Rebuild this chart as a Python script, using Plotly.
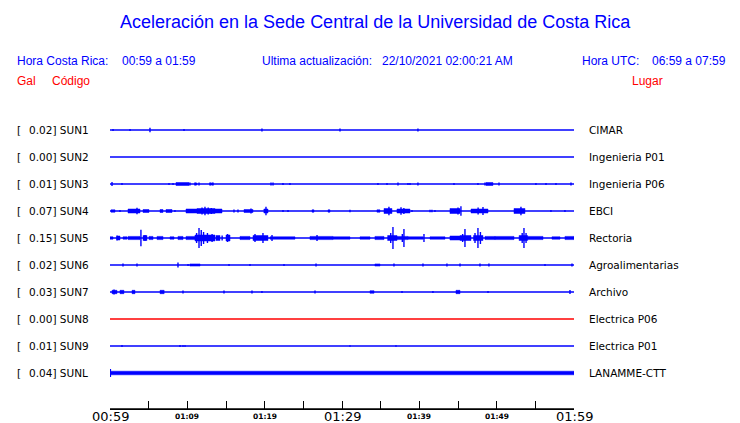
import plotly.graph_objects as go

# ---------------- data ----------------
codes = ["SUN1", "SUN2", "SUN3", "SUN4", "SUN5", "SUN6", "SUN7", "SUN8", "SUN9", "SUNL"]
gal = ["0.02", "0.00", "0.01", "0.07", "0.15", "0.02", "0.03", "0.00", "0.01", "0.04"]
places = ["CIMAR", "Ingenieria P01", "Ingenieria P06", "EBCI", "Rectoria",
          "Agroalimentarias", "Archivo", "Electrica P06", "Electrica P01", "LANAMME-CTT"]

tick_minutes = [0, 5, 10, 15, 20, 25, 30, 35, 40, 45, 50, 55, 60]
label_minutes = [0, 10, 20, 30, 40, 50, 60]
label_texts = ["00:59", "01:09", "01:19", "01:29", "01:39", "01:49", "01:59"]
major_labels = ["00:59", "01:29", "01:59"]

# spikes: (minute after 00:59, half amplitude) ; bands: (start, end, half amplitude)
sun1_spikes = [(0.39, 1), (2.59, 1), (5.17, 2.2), (9.57, 1), (19.65, 1.5), (29.74, 1.5), (39.82, 1.5)]
sun1_bands = []
sun2_spikes = []
sun2_bands = []
sun3_spikes = [(0.26, 2), (1.55, 1), (7.63, 1), (8.15, 1), (10.34, 1.5), (10.99, 1.5), (11.51, 1.5),
               (12.93, 1.5), (13.32, 1.5), (20.82, 1.5), (21.08, 1.5), (22.37, 1), (23.27, 1),
               (34.65, 1), (35.82, 1), (37.24, 1.5), (38.53, 1), (38.79, 1), (39.82, 1.5),
               (44.48, 1), (47.58, 1), (48.49, 1.5), (50.3, 1.5), (55.08, 1), (56.38, 1),
               (57.67, 1), (59.61, 1.5)]
sun3_bands = [(8.53, 10.21, 1.5), (10.99, 11.25, 1.1), (12.93, 13.32, 1.1), (48.62, 49.52, 1.5)]
sun4_spikes = [(1.29, 1), (3.49, 3.3), (8.4, 1), (11.9, 3.5), (12.28, 4.2), (12.7, 3.5), (13.1, 3),
               (16.03, 1.5), (16.55, 1.5), (18.23, 2.5), (20.17, 4.2), (22.37, 1), (23.02, 1),
               (31.03, 1.2), (36.07, 4.3), (37.63, 3.7), (38.0, 3), (39.05, 1), (41.38, 1.2),
               (41.63, 1.2), (42.02, 1), (45.0, 3.5), (45.38, 4.7), (47.6, 3.5), (48.23, 4),
               (53.14, 4.2), (57.02, 1), (58.83, 1)]
sun4_bands = [(0.13, 0.65, 1.2), (2.33, 3.88, 2.0), (4.27, 5.04, 1.5), (6.47, 6.85, 1.5), (7.24, 8.02, 1.5),
              (9.83, 11.25, 2.0), (11.25, 13.58, 2.5), (13.58, 14.48, 2.0), (17.33, 18.49, 1.5),
              (19.9, 20.43, 2.0), (26.12, 26.38, 1.2), (28.19, 28.45, 1.2), (34.52, 34.91, 1.2),
              (35.43, 36.46, 2.5), (37.11, 38.79, 2.0), (43.96, 45.26, 2.5), (46.68, 48.88, 2.0),
              (52.24, 53.66, 2.5)]
sun5_spikes = [(0.9, 2.5), (4.0, 8.3), (4.53, 3), (11.2, 5), (11.51, 10), (11.8, 8), (12.1, 6),
               (12.6, 5), (13.2, 4), (14.5, 2.5), (15.2, 4), (18.75, 4), (19.78, 5), (20.95, 3),
               (26.77, 3), (36.3, 5), (36.59, 11), (37.8, 4), (38.01, 9), (40.6, 4), (45.6, 4),
               (45.9, 9), (47.2, 5), (47.58, 10), (47.9, 6), (53.3, 5), (53.53, 10), (53.8, 5)]
sun5_bands = [(0.0, 0.39, 1.2), (0.9, 1.29, 2.0), (1.68, 2.2, 1.2), (2.33, 3.88, 1.6), (4.27, 4.78, 2.5),
              (5.04, 5.56, 1.6), (6.08, 6.85, 1.6), (7.76, 8.28, 1.2), (8.79, 9.44, 1.6), (9.83, 10.99, 1.6),
              (10.99, 13.58, 3.0), (13.71, 14.22, 2.5), (15.0, 15.52, 3.0), (16.81, 18.1, 1.6),
              (18.49, 20.43, 2.5), (20.69, 23.92, 1.2), (25.86, 28.83, 1.6), (28.83, 31.03, 1.2),
              (32.33, 33.62, 1.2), (34.26, 35.43, 1.6), (35.9, 37.11, 2.5), (37.11, 38.53, 1.6),
              (38.53, 40.47, 1.2), (41.38, 43.32, 1.2), (43.96, 45.26, 2.0), (45.26, 46.68, 2.5),
              (47.0, 48.23, 2.5), (48.49, 49.78, 1.6), (49.78, 52.24, 1.6), (52.9, 54.0, 2.5),
              (54.0, 55.99, 1.6), (57.15, 58.19, 1.2), (58.83, 60.0, 1.6)]
sun6_spikes = [(1.68, 1.5), (3.49, 1.5), (8.79, 2.5), (10.09, 1), (15.39, 1), (18.1, 1), (22.5, 1),
               (26.64, 1.5), (36.72, 1.5), (40.47, 1.5), (43.57, 1.5), (45.26, 1.5), (47.84, 1.5),
               (49.0, 1.5), (56.25, 1), (59.74, 1.5)]
sun6_bands = [(10.34, 11.64, 1.1), (34.26, 34.91, 1.1)]
sun7_spikes = [(0.52, 2.5), (9.44, 1.5), (14.74, 1.5), (18.36, 1.5), (19.65, 1), (26.51, 1.5),
               (37.76, 1), (41.76, 1), (48.88, 1), (59.48, 2)]
sun7_bands = [(0.26, 0.9, 1.7), (1.29, 1.8, 1.7), (2.85, 3.23, 1.7), (6.47, 7.0, 1.7), (33.62, 34.14, 1.3),
              (44.74, 45.26, 1.7)]
sun8_spikes = []
sun8_bands = []
sun9_spikes = [(1.55, 1), (9.05, 1), (9.44, 0.8), (9.7, 0.8), (31.03, 0.8), (36.98, 0.8)]
sun9_bands = []
sunl_spikes = [(0.05, 4)]
sunl_bands = [(0.0, 60.0, 1.8)]

spikes = [sun1_spikes, sun2_spikes, sun3_spikes, sun4_spikes, sun5_spikes,
          sun6_spikes, sun7_spikes, sun8_spikes, sun9_spikes, sunl_spikes]
bands = [sun1_bands, sun2_bands, sun3_bands, sun4_bands, sun5_bands,
         sun6_bands, sun7_bands, sun8_bands, sun9_bands, sunl_bands]
trace_colors = ["#0000FF"] * 7 + ["#FF0000"] + ["#0000FF"] * 2

# ---------------- layout geometry ----------------
W, H = 740, 423
L, R, T, B = 110, 574, 100, 409
ROW = 27.0
AMP = 1.0 / ROW  # amplitude unit -> row units


def px_x(p):
    return (p - L) / (R - L)


def px_y(p):
    return (B - p) / (B - T)


fig = go.Figure()

for i, code in enumerate(codes):
    col = trace_colors[i]
    fig.add_trace(go.Scatter(x=[0, 60], y=[i, i], mode="lines",
                             line=dict(color=col, width=1.3), hoverinfo="skip"))
    if bands[i]:
        bx, by = [], []
        for s, e, a in bands[i]:
            bx += [s, e, e, s, s, None]
            by += [i - a * AMP, i - a * AMP, i + a * AMP, i + a * AMP, i - a * AMP, None]
        fig.add_trace(go.Scatter(x=bx, y=by, mode="lines", fill="toself", fillcolor=col,
                                 line=dict(color=col, width=0.5), hoverinfo="skip"))
    if spikes[i]:
        sx, sy = [], []
        for t, a in spikes[i]:
            sx += [t, t, None]
            sy += [i - a * AMP, i + a * AMP, None]
        fig.add_trace(go.Scatter(x=sx, y=sy, mode="lines",
                                 line=dict(color=col, width=1.4), hoverinfo="skip"))

ann = []
# title
ann.append(dict(text="Aceleración en la Sede Central de la Universidad de Costa Rica",
                x=px_x(375.5), y=px_y(22), xref="paper", yref="paper",
                xanchor="center", yanchor="middle", showarrow=False,
                font=dict(family="Liberation Sans", size=18, color="#0000FF")))

blue_f = dict(family="Liberation Sans", size=12, color="#0000FF")
red_f = dict(family="Liberation Sans", size=12, color="#FF0000")
for txt, px, py, f in [("Hora Costa Rica:", 15, 61, blue_f), ("00:59 a 01:59", 120, 61, blue_f),
                       ("Ultima actualización:", 260, 61, blue_f),
                       ("22/10/2021 02:00:21 AM", 380, 61, blue_f),
                       ("Hora UTC:", 580, 61, blue_f), ("06:59 a 07:59", 650, 61, blue_f),
                       ("Gal", 15, 81, red_f), ("Código", 50, 81, red_f), ("Lugar", 630, 81, red_f)]:
    ann.append(dict(text=txt, x=px_x(px), y=px_y(py), xref="paper", yref="paper",
                    xanchor="left", yanchor="middle", showarrow=False, font=f))

lab_f = dict(family="DejaVu Sans", size=10.5, color="#000000")
for i, code in enumerate(codes):
    ann.append(dict(text="[", x=px_x(15), y=i, xref="paper", yref="y",
                    xanchor="left", yanchor="middle", showarrow=False, font=lab_f))
    ann.append(dict(text=f"{gal[i]}] {code}", x=px_x(27), y=i, xref="paper", yref="y",
                    xanchor="left", yanchor="middle", showarrow=False, font=lab_f))
    ann.append(dict(text=places[i], x=px_x(587), y=i, xref="paper", yref="y",
                    xanchor="left", yanchor="middle", showarrow=False, font=lab_f))

for m, txt in zip(label_minutes, label_texts):
    if txt in major_labels:
        f = dict(family="DejaVu Sans", size=13, color="#000000")
        yy = px_y(416.5)
    else:
        f = dict(family="DejaVu Sans", size=7.5, color="#000000", weight="bold")
        yy = px_y(416)
    ann.append(dict(text=txt, x=m, y=yy, xref="x", yref="paper",
                    xanchor="center", yanchor="middle", showarrow=False, font=f))

fig.update_layout(
    width=W, height=H,
    margin=dict(l=L, r=W - R, t=T, b=H - B, pad=0),
    paper_bgcolor="white", plot_bgcolor="white",
    showlegend=False,
    annotations=ann,
    shapes=[dict(type="line", xref="x", yref="paper", x0=0, x1=60, y0=0, y1=0,
                 line=dict(color="black", width=1.3), layer="above")],
    xaxis=dict(range=[0, 60], tickvals=tick_minutes, ticks="inside", ticklen=8, tickwidth=1,
               tickcolor="black", showline=True, linecolor="black", linewidth=1,
               showticklabels=False, showgrid=False, zeroline=False, fixedrange=True),
    yaxis=dict(range=[9 + (B - 373) / ROW, -(130 - T) / ROW], visible=False,
               showgrid=False, zeroline=False, fixedrange=True),
)

fig.write_html("out.html", config={"displayModeBar": False},
               post_script="document.body.style.margin='0px';document.body.style.overflow='hidden';")
